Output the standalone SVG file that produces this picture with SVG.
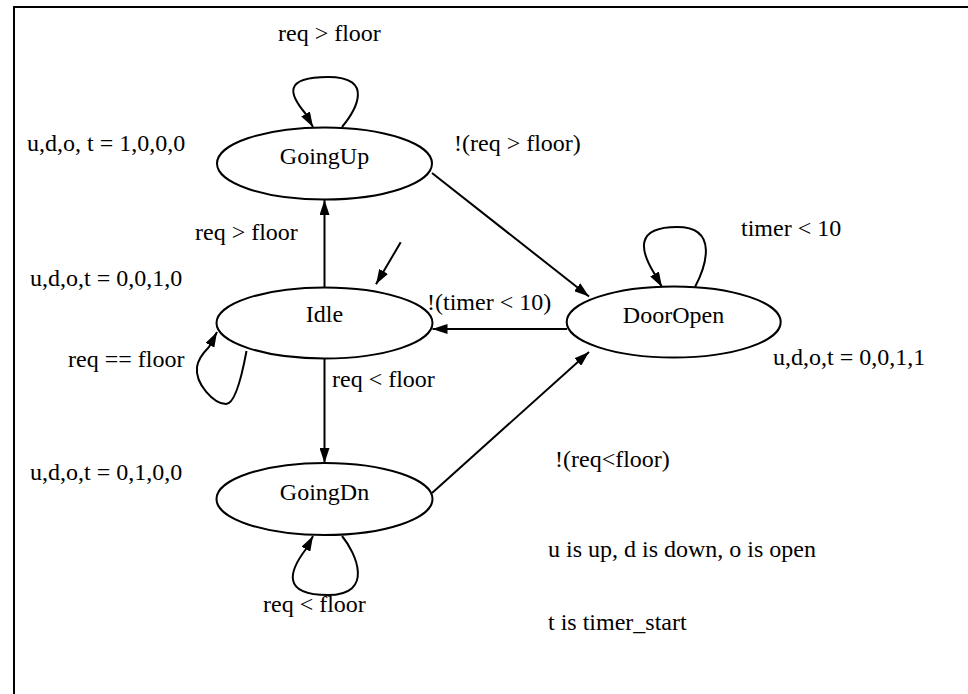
<svg xmlns="http://www.w3.org/2000/svg" width="968" height="694" viewBox="0 0 968 694">
<style>
  .node ellipse { fill: none; stroke: #000; stroke-width: 2; }
  .edge { fill: none; stroke: #000; stroke-width: 2; marker-end: url(#arrow); }
  text { font-family: "Liberation Serif", "Times New Roman", serif; font-size: 24px; fill: #000; }
  .c { text-anchor: middle; }
</style>
<defs>
  <marker id="arrow" viewBox="0 0 15 10" refX="15" refY="5" markerWidth="15" markerHeight="10" markerUnits="userSpaceOnUse" orient="auto">
    <path d="M0,0 L15,5 L0,10 Z" fill="#000"/>
  </marker>
</defs>
<rect x="0" y="0" width="968" height="694" fill="#fff"/>
<path d="M14,694 L14,7 L968,7" fill="none" stroke="#000" stroke-width="2"/>

<g id="GoingUp" class="node">
  <ellipse cx="324.5" cy="163.5" rx="107.5" ry="36"/>
  <text class="c" x="324.5" y="164">GoingUp</text>
</g>
<g id="Idle" class="node">
  <ellipse cx="324.5" cy="323" rx="108" ry="35.5"/>
  <text class="c" x="324.5" y="322">Idle</text>
</g>
<g id="GoingDn" class="node">
  <ellipse cx="324.5" cy="499" rx="108" ry="36"/>
  <text class="c" x="324.5" y="500">GoingDn</text>
</g>
<g id="DoorOpen" class="node">
  <ellipse cx="673.7" cy="322" rx="107" ry="35.5"/>
  <text class="c" x="673.5" y="323">DoorOpen</text>
</g>

<g id="edges">
  <path class="edge" d="M400.7,242.3 L376,284.3"/>
  <path class="edge" d="M324.5,287.5 L324.5,200"/>
  <path class="edge" d="M324.5,358.5 L324.5,463"/>
  <path class="edge" d="M567,329 L432.5,329"/>
  <path class="edge" d="M432,173 L589,296.5"/>
  <path class="edge" d="M432,493 L589,352"/>
  <path class="edge" d="M342,127 C356,110 375,77 328,77 C282,77 290,95 305,113 L313,127"/>
  <path class="edge" d="M695,287 C705,268 720,227 677,227 C635,227 640,250 654,273 L662,287"/>
  <path class="edge" d="M246.5,351 C243,370 236,404 226,404 C214,404 195,384 197,367 C198,360 203,353 209,347 L217,332"/>
  <path class="edge" d="M342,536 C356,553 375,595 328,595 C280,595 290,570 306,549 L313,536"/>
</g>

<g id="labels">
  <text x="278" y="41">req &gt; floor</text>
  <text x="27" y="151">u,d,o, t = 1,0,0,0</text>
  <text x="454" y="151">!(req &gt; floor)</text>
  <text x="195" y="240">req &gt; floor</text>
  <text x="741" y="236">timer &lt; 10</text>
  <text x="30" y="286">u,d,o,t = 0,0,1,0</text>
  <text x="427" y="310">!(timer &lt; 10)</text>
  <text x="68" y="367">req == floor</text>
  <text x="773" y="365">u,d,o,t = 0,0,1,1</text>
  <text x="332" y="387">req &lt; floor</text>
  <text x="555" y="467">!(req&lt;floor)</text>
  <text x="30" y="480">u,d,o,t = 0,1,0,0</text>
  <text x="548" y="557">u is up, d is down, o is open</text>
  <text x="263" y="612">req &lt; floor</text>
  <text x="548" y="630">t is timer_start</text>
</g>
</svg>
